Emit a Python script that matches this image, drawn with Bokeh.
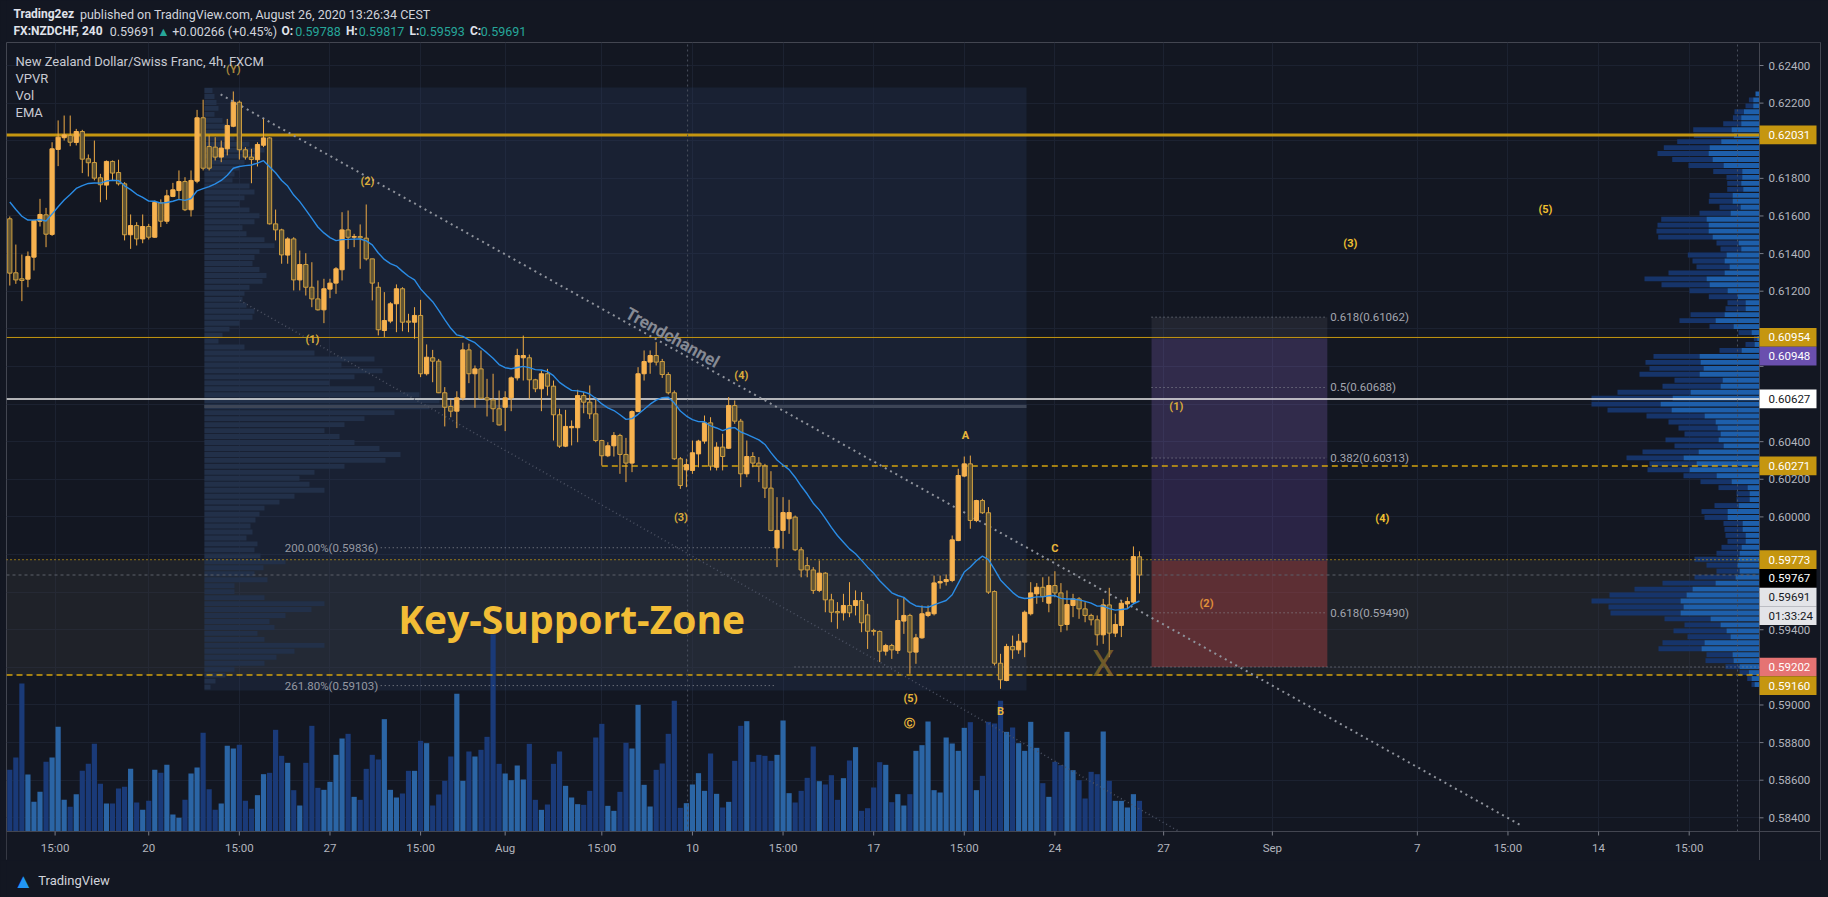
from bokeh.plotting import figure
from bokeh.layouts import column
from bokeh.models import Range1d, FixedTicker, NumeralTickFormatter, Label
from bokeh.embed import file_html
from bokeh.resources import INLINE
from bokeh.core.properties import value

# ---------------- candle data : FX:NZDCHF 4h ----------------
open_ = [
 0.61585, 0.61298, 0.61266, 0.61264, 0.61381, 0.61572, 0.61606, 0.61502, 0.61954, 0.62016,
 0.62028, 0.61991, 0.62049, 0.61904, 0.61884, 0.61803, 0.61764, 0.61890, 0.61831, 0.61771,
 0.61500, 0.61549, 0.61478, 0.61544, 0.61487, 0.61670, 0.61572, 0.61704, 0.61735, 0.61783,
 0.61633, 0.61785, 0.62122, 0.61969, 0.61966, 0.61913, 0.61957, 0.62077, 0.62205, 0.61952,
 0.61913, 0.61899, 0.61976, 0.62015, 0.61558, 0.61526, 0.61392, 0.61478, 0.61260, 0.61342,
 0.61221, 0.61159, 0.61101, 0.61211, 0.61243, 0.61314, 0.61526, 0.61487, 0.61491, 0.61482,
 0.61372, 0.61221, 0.60991, 0.61041, 0.61133, 0.61213, 0.61041, 0.61035, 0.61071, 0.60761,
 0.60846, 0.60828, 0.60660, 0.60587, 0.60562, 0.60633, 0.60888, 0.60761, 0.60787, 0.60633,
 0.60622, 0.60575, 0.60583, 0.60633, 0.60739, 0.60846, 0.60846, 0.60729, 0.60681, 0.60761,
 0.60695, 0.60543, 0.60376, 0.60474, 0.60474, 0.60645, 0.60610, 0.60548, 0.60406, 0.60325,
 0.60378, 0.60433, 0.60332, 0.60286, 0.60560, 0.60761, 0.60823, 0.60858, 0.60826, 0.60757,
 0.60660, 0.60309, 0.60250, 0.60247, 0.60335, 0.60403, 0.60500, 0.60264, 0.60371, 0.60365,
 0.60592, 0.60509, 0.60229, 0.60321, 0.60286, 0.60270, 0.60153, 0.59835, 0.59928, 0.59990,
 0.59999, 0.59825, 0.59741, 0.59718, 0.59609, 0.59701, 0.59559, 0.59497, 0.59490, 0.59529,
 0.59529, 0.59555, 0.59479, 0.59396, 0.59391, 0.59286, 0.59316, 0.59290, 0.59446, 0.59476,
 0.59281, 0.59357, 0.59476, 0.59485, 0.59649, 0.59656, 0.59662, 0.59874, 0.60217, 0.60282,
 0.59981, 0.60087, 0.60022, 0.59603, 0.59222, 0.59130, 0.59311, 0.59293, 0.59334, 0.59485,
 0.59591, 0.59626, 0.59541, 0.59635, 0.59596, 0.59428, 0.59529, 0.59564, 0.59511, 0.59476,
 0.59453, 0.59373, 0.59532, 0.59382, 0.59423, 0.59538, 0.59547, 0.59788]
high_ = [
 0.61597, 0.61448, 0.61395, 0.61411, 0.61580, 0.61691, 0.61643, 0.61992, 0.62108, 0.62134,
 0.62134, 0.62063, 0.62058, 0.61927, 0.62001, 0.61824, 0.61895, 0.61895, 0.61899, 0.61780,
 0.61608, 0.61567, 0.61608, 0.61558, 0.61682, 0.61688, 0.61739, 0.61776, 0.61842, 0.61806,
 0.61842, 0.62164, 0.62218, 0.62028, 0.62019, 0.62001, 0.62116, 0.62262, 0.62214, 0.61966,
 0.61957, 0.61992, 0.62116, 0.62019, 0.61634, 0.61532, 0.61487, 0.61487, 0.61416, 0.61402,
 0.61354, 0.61257, 0.61266, 0.61266, 0.61328, 0.61620, 0.61629, 0.61505, 0.61555, 0.61661,
 0.61372, 0.61248, 0.61195, 0.61142, 0.61236, 0.61221, 0.61080, 0.61115, 0.61154, 0.60917,
 0.60888, 0.60840, 0.60690, 0.60622, 0.60668, 0.60926, 0.60921, 0.60805, 0.60885, 0.60734,
 0.60761, 0.60672, 0.60668, 0.60746, 0.60894, 0.60964, 0.60863, 0.60734, 0.60778, 0.60787,
 0.60725, 0.60575, 0.60569, 0.60513, 0.60676, 0.60663, 0.60699, 0.60637, 0.60410, 0.60397,
 0.60451, 0.60442, 0.60420, 0.60566, 0.60796, 0.60885, 0.60885, 0.60929, 0.60840, 0.60769,
 0.60672, 0.60318, 0.60309, 0.60406, 0.60410, 0.60539, 0.60530, 0.60397, 0.60442, 0.60637,
 0.60619, 0.60521, 0.60406, 0.60344, 0.60318, 0.60282, 0.60243, 0.60105, 0.60105, 0.60091,
 0.60007, 0.59839, 0.59786, 0.59733, 0.59768, 0.59706, 0.59591, 0.59547, 0.59591, 0.59653,
 0.59609, 0.59600, 0.59538, 0.59405, 0.59396, 0.59325, 0.59325, 0.59564, 0.59573, 0.59485,
 0.59378, 0.59529, 0.59529, 0.59688, 0.59688, 0.59694, 0.59901, 0.60256, 0.60321, 0.60326,
 0.60091, 0.60096, 0.60052, 0.59609, 0.59272, 0.59325, 0.59369, 0.59378, 0.59502, 0.59653,
 0.59648, 0.59679, 0.59683, 0.59711, 0.59648, 0.59609, 0.59591, 0.59573, 0.59547, 0.59485,
 0.59476, 0.59564, 0.59623, 0.59485, 0.59555, 0.59573, 0.59843, 0.59817]
low_ = [
 0.61230, 0.61239, 0.61147, 0.61221, 0.61310, 0.61544, 0.61434, 0.61494, 0.61865, 0.62001,
 0.61971, 0.61975, 0.61828, 0.61810, 0.61789, 0.61673, 0.61686, 0.61789, 0.61762, 0.61470,
 0.61425, 0.61443, 0.61455, 0.61475, 0.61484, 0.61541, 0.61558, 0.61700, 0.61691, 0.61626,
 0.61597, 0.61774, 0.61842, 0.61842, 0.61895, 0.61886, 0.61922, 0.62072, 0.61900, 0.61900,
 0.61774, 0.61863, 0.61966, 0.61555, 0.61470, 0.61346, 0.61346, 0.61204, 0.61204, 0.61177,
 0.61115, 0.61097, 0.61030, 0.61163, 0.61186, 0.61257, 0.61425, 0.61434, 0.61319, 0.61363,
 0.61151, 0.60965, 0.60956, 0.61030, 0.60982, 0.60987, 0.60982, 0.60947, 0.60743, 0.60752,
 0.60716, 0.60658, 0.60481, 0.60530, 0.60472, 0.60619, 0.60711, 0.60580, 0.60628, 0.60534,
 0.60504, 0.60486, 0.60456, 0.60562, 0.60725, 0.60725, 0.60628, 0.60663, 0.60562, 0.60645,
 0.60406, 0.60367, 0.60371, 0.60380, 0.60397, 0.60551, 0.60521, 0.60397, 0.60273, 0.60318,
 0.60321, 0.60229, 0.60185, 0.60238, 0.60557, 0.60725, 0.60761, 0.60805, 0.60739, 0.60651,
 0.60303, 0.60149, 0.60158, 0.60229, 0.60264, 0.60389, 0.60247, 0.60247, 0.60247, 0.60362,
 0.60495, 0.60158, 0.60211, 0.60264, 0.60185, 0.60100, 0.59924, 0.59733, 0.59830, 0.59910,
 0.59818, 0.59679, 0.59679, 0.59591, 0.59600, 0.59493, 0.59440, 0.59405, 0.59449, 0.59467,
 0.59476, 0.59387, 0.59298, 0.59369, 0.59228, 0.59263, 0.59245, 0.59272, 0.59378, 0.59166,
 0.59219, 0.59352, 0.59467, 0.59476, 0.59618, 0.59635, 0.59653, 0.59871, 0.60211, 0.59937,
 0.59972, 0.60016, 0.59591, 0.59210, 0.59086, 0.59126, 0.59245, 0.59272, 0.59254, 0.59476,
 0.59538, 0.59547, 0.59493, 0.59573, 0.59387, 0.59396, 0.59467, 0.59458, 0.59440, 0.59423,
 0.59316, 0.59325, 0.59254, 0.59361, 0.59361, 0.59511, 0.59541, 0.59593]
close_ = [
 0.61296, 0.61260, 0.61257, 0.61385, 0.61576, 0.61608, 0.61503, 0.61957, 0.62019, 0.62031,
 0.61992, 0.62049, 0.61902, 0.61883, 0.61801, 0.61766, 0.61890, 0.61828, 0.61771, 0.61500,
 0.61549, 0.61478, 0.61544, 0.61487, 0.61672, 0.61572, 0.61707, 0.61739, 0.61783, 0.61633,
 0.61789, 0.62122, 0.61854, 0.61854, 0.61913, 0.61961, 0.62081, 0.62205, 0.61952, 0.61913,
 0.61900, 0.61980, 0.62015, 0.61558, 0.61526, 0.61393, 0.61478, 0.61260, 0.61342, 0.61221,
 0.61159, 0.61101, 0.61213, 0.61243, 0.61319, 0.61526, 0.61487, 0.61491, 0.61484, 0.61372,
 0.61243, 0.60995, 0.61044, 0.61133, 0.61213, 0.61035, 0.61035, 0.61071, 0.60761, 0.60849,
 0.60828, 0.60660, 0.60583, 0.60562, 0.60633, 0.60888, 0.60761, 0.60787, 0.60631, 0.60622,
 0.60575, 0.60489, 0.60633, 0.60739, 0.60858, 0.60858, 0.60729, 0.60681, 0.60761, 0.60695,
 0.60543, 0.60376, 0.60481, 0.60481, 0.60645, 0.60610, 0.60548, 0.60406, 0.60325, 0.60378,
 0.60433, 0.60332, 0.60286, 0.60560, 0.60761, 0.60826, 0.60858, 0.60823, 0.60757, 0.60660,
 0.60309, 0.60167, 0.60278, 0.60341, 0.60403, 0.60500, 0.60270, 0.60371, 0.60321, 0.60592,
 0.60509, 0.60229, 0.60321, 0.60286, 0.60270, 0.60153, 0.59928, 0.59928, 0.60023, 0.60023,
 0.59825, 0.59718, 0.59718, 0.59609, 0.59701, 0.59559, 0.59493, 0.59490, 0.59529, 0.59490,
 0.59555, 0.59437, 0.59392, 0.59391, 0.59286, 0.59316, 0.59293, 0.59449, 0.59476, 0.59281,
 0.59357, 0.59485, 0.59493, 0.59649, 0.59656, 0.59667, 0.59878, 0.60220, 0.60282, 0.59981,
 0.60087, 0.60022, 0.59600, 0.59222, 0.59134, 0.59311, 0.59293, 0.59339, 0.59493, 0.59596,
 0.59626, 0.59577, 0.59635, 0.59596, 0.59423, 0.59534, 0.59564, 0.59511, 0.59476, 0.59453,
 0.59373, 0.59532, 0.59382, 0.59428, 0.59541, 0.59550, 0.59789, 0.59691]
volume = [
 1850, 2220, 4440, 1710, 890, 1190, 2090, 2220, 3140, 950,
 740, 1120, 1820, 2030, 2630, 1430, 840, 840, 1290, 1340,
 1880, 870, 650, 920, 1850, 1760, 2000, 510, 410, 950,
 1740, 1920, 2960, 1270, 650, 840, 2570, 2490, 2600, 920,
 680, 1090, 1720, 1760, 3050, 2270, 2060, 1240, 780, 2060,
 3170, 1310, 1250, 1490, 2300, 2790, 2930, 1040, 950, 1880,
 2300, 2160, 3370, 1250, 1020, 1140, 1820, 1820, 2720, 2650,
 780, 1110, 1520, 2250, 4130, 1520, 2400, 2250, 2450, 2840,
 5920, 2030, 1740, 1540, 1980, 1560, 2630, 950, 650, 810,
 2030, 2400, 1370, 1020, 820, 800, 1220, 2820, 3230, 770,
 620, 1190, 2660, 2490, 3800, 1400, 750, 1850, 2040, 2930,
 3920, 710, 850, 1410, 1750, 1220, 2340, 1130, 720, 890,
 2120, 3170, 3310, 2090, 2300, 2270, 2120, 2300, 3330, 1150,
 870, 1220, 1610, 2550, 1510, 1410, 1690, 950, 1600, 2130,
 2530, 620, 700, 1320, 2080, 2000, 880, 1120, 780, 1120,
 2420, 2590, 3300, 1240, 1170, 2820, 2640, 2420, 3110, 3280,
 1240, 1670, 3290, 3240, 3920, 2990, 3120, 2650, 2420, 3290,
 2510, 1450, 1040, 2090, 1990, 2990, 1840, 1540, 990, 1790,
 1720, 3000, 1520, 920, 920, 720, 1120, 920]
EMA_SEED = 0.61674
EMA_LEN = 20

# ---------------- axes ----------------
price_ticks = [0.584, 0.586, 0.588, 0.590, 0.592, 0.594, 0.596, 0.598, 0.600, 0.602, 0.604,
               0.606, 0.608, 0.610, 0.612, 0.614, 0.616, 0.618, 0.620, 0.622, 0.624]
price_hidden = [0.620, 0.610, 0.608, 0.606, 0.598, 0.596, 0.592]   # covered by price tags
time_ticks = [7.5, 23.0, 38.0, 53.0, 68.0, 82.0, 98.0, 113.0, 128.0, 143.0, 158.0, 173.0,
              191.0, 209.0, 233.0, 248.0, 263.0, 278.0]
time_labels = ["15:00", "20", "15:00", "27", "15:00", "Aug", "15:00", "10", "15:00", "17",
               "15:00", "24", "27", "Sep", "7", "15:00", "14", "15:00"]

# ---------------- volume profiles ----------------
VP_TOP, VP_ROW = 0.62249, 0.0003172
vpvr_up = [4, 6.3, 6.3, 15.7, 18.3, 18.3, 28, 25.7, 38.3, 50, 51, 47, 36, 17.3, 17.3, 18.3, 16.3, 27, 27, 19,
           29, 53, 51, 51, 47, 21, 18.3, 33, 35, 30, 35, 53, 50, 32, 21.7, 14, 14, 35, 44, 26,
           8, 2.3, 5, 18, 60, 59, 56, 60, 37, 39, 69, 87, 99, 88, 55, 44, 42, 39, 41, 36,
           61, 76, 63, 70, 43, 28, 12, 10, 10, 21, 32, 32, 17, 17, 14, 14, 18, 20, 21, 22,
           20, 24, 44, 67, 73, 79, 76, 79, 49, 39, 33, 29, 55, 58, 27, 26, 20, 10.7, 8, 5]
vpvr_down = [0, 4.3, 7.7, 9.3, 8.3, 18, 38.3, 40, 44, 45.7, 51, 40.3, 35, 29, 15.7, 14, 16, 23, 23.7, 21,
             31, 45.3, 51, 52, 54.3, 22, 20.7, 38.7, 32, 33, 56, 62, 48, 38, 29, 18, 20, 34, 36, 24,
             13, 3.3, 9, 22, 46, 55, 54, 60, 48, 58, 73, 81, 69, 64, 58, 47, 39, 36, 53, 49,
             56, 57, 47, 42, 33, 31, 29, 13, 13, 24, 26, 23, 19, 18, 20, 18, 20, 23, 44, 31,
             23, 41, 53, 58, 77, 89, 75, 70, 46, 36, 53, 43, 42, 43, 26, 28, 14, 9.3, 4.3, 3]
LVP_TOP = 0.62267
fixed_vp = [8, 10, 12, 14, 10, 18, 22, 20, 30, 45, 60, 55, 40, 35, 30, 28, 45, 50, 40, 35,
            45, 55, 50, 38, 42, 60, 70, 55, 50, 48, 55, 62, 58, 45, 40, 38, 42, 50, 48, 35,
            25, 18, 14, 40, 110, 170, 137, 178, 150, 125, 170, 215, 235, 225, 190, 160, 140, 120, 135, 150,
            175, 196, 181, 140, 110, 95, 105, 120, 90, 75, 60, 55, 51, 46, 48, 42, 53, 50, 56, 81,
            59, 50, 63, 30, 30, 60, 120, 107, 81, 65, 70, 53, 60, 120, 90, 72, 60, 30, 21, 11, 6]

# ---------------- drawings (bar index / price) ----------------
lvl_res_major = 0.62031
lvl_gold = 0.60954
lvl_white = 0.60627
lvl_dash = 0.60271
lvl_entry = 0.59773
lvl_support = 0.59160
lvl_stop = 0.59202
lvl_target = 0.60948
lvl_pos_entry = 0.59767
lvl_poc = 0.60587
fib_pos = [("0.618(0.61062)", 0.61062), ("0.5(0.60688)", 0.60688),
           ("0.382(0.60313)", 0.60313), ("0.618(0.59490)", 0.59490)]
fib_ext = [("200.00%(0.59836)", 0.59836, 127.6), ("261.80%(0.59103)", 0.59103, 126.6)]
trend_upper = ([34.9, 250.2], [0.62246, 0.58359])
trend_lower = ([38.1, 193.6], [0.61151, 0.58327])
box_fixed = (32.2, 168.3, 0.62283, 0.59077)
pos_x = (189.0, 218.1)
vlines = [112.2, 286.0]
waves = [("(Y)", 37.0, 0.62379, "#a8873a"), ("(2)", 59.2, 0.61785, "#d9ab3a"),
         ("(1)", 50.1, 0.60945, "#d9ab3a"), ("(4)", 121.1, 0.60753, "#d9ab3a"),
         ("(3)", 111.1, 0.59998, "#d9ab3a"), ("A", 158.2, 0.60433, "#e8b53a"),
         ("C", 173.0, 0.59830, "#e8b53a"), ("(5)", 149.1, 0.59033, "#e8b53a"),
         ("B", 164.0, 0.58965, "#e8b53a"), ("\u24b8", 148.9, 0.58903, "#e8b53a"),
         ("(1)", 193.1, 0.60589, "#d9ab3a"), ("(2)", 198.1, 0.59538, "#e0903a"),
         ("(4)", 227.2, 0.59993, "#f0c030"), ("(3)", 221.9, 0.61456, "#f0c030"),
         ("(5)", 254.2, 0.61636, "#f0c030")]

# ---------------- layout constants ----------------
W = 1828
HEAD_H, MAIN_H, FOOT_H = 42, 818, 37
FW = 1814                    # frame: x 6..1820 (price column included)
PX = 6.041                   # px per 4h bar
xs = -3.3 / PX
xe = xs + FW / PX
XP_R = xs + 1753 / PX        # right edge of price area (x = 1759)
yt = 0.625223
PPX = 1.0 / 18808            # price per pixel
yb = yt - MAIN_H * PPX
YP_B = yt - 789 * PPX        # bottom of price area (y = 831)
FONT = "Roboto"
BG = "#131722"
GOLD = "#c59610"
LINE = "#434651"

p = figure(width=W, height=MAIN_H, x_range=Range1d(xs, xe), y_range=Range1d(yb, yt),
           output_backend="svg", toolbar_location=None, y_axis_location="right", title=None,
           min_border_left=6, min_border_right=8, min_border_top=0, min_border_bottom=0,
           background_fill_color=BG, border_fill_color=BG, outline_line_color=LINE)
p.extra_y_ranges = {"vol": Range1d(-29 * 30, (MAIN_H - 29) * 30)}
p.extra_x_ranges = {"vp": Range1d(1753, -61), "lvp": Range1d(-198, 1616)}

ya = p.yaxis[0]
ya.ticker = FixedTicker(ticks=price_ticks)
ya.formatter = NumeralTickFormatter(format="0.00000")
ya.major_label_overrides = {t: "" for t in price_hidden}
ya.major_label_standoff = -52
xa = p.xaxis[0]
xa.ticker = FixedTicker(ticks=time_ticks)
xa.major_label_overrides = {float(t): l for t, l in zip(time_ticks, time_labels)}
xa.major_label_standoff = -20
for ax in (xa, ya):
    ax.axis_line_color = LINE
    ax.major_tick_line_color = None
    ax.major_tick_in = 0
    ax.major_tick_out = 0
    ax.minor_tick_line_color = None
    ax.major_label_text_color = "#b2b5be"
    ax.major_label_text_font = FONT
    ax.major_label_text_font_size = "11.5px"
p.xgrid.grid_line_color = "#1c2231"
p.ygrid.grid_line_color = "#1c2231"

n = len(close_)
idx = list(range(n))
bull = [c >= o for o, c in zip(open_, close_)]

# axis column / row backgrounds (hide grid there)
p.quad(left=[XP_R], right=[xe], top=[yt], bottom=[yb], fill_color=BG, line_color=None)
p.quad(left=[xs], right=[xe], top=[YP_B], bottom=[yb], fill_color=BG, line_color=None)

# background zones
p.quad(left=[box_fixed[0]], right=[box_fixed[1]], top=[box_fixed[2]], bottom=[box_fixed[3]],
       fill_color="#2a3f66", fill_alpha=0.25, line_color=None)
p.quad(left=[xs], right=[XP_R], top=[lvl_entry], bottom=[lvl_support],
       fill_color="#3a3a3a", fill_alpha=0.3, line_color=None)

# fixed range volume profile
lvp_y = [LVP_TOP - k * VP_ROW for k in range(len(fixed_vp))]
p.hbar(y=lvp_y, left=0, right=fixed_vp, height=VP_ROW * 0.82, x_range_name="lvp",
       fill_color="#223049", line_color=None)
p.segment(x0=[box_fixed[0]], y0=[lvl_poc], x1=[box_fixed[1]], y1=[lvl_poc],
          line_color="#3d4556", line_width=3)

# volume
vcol = ["#2b65a5" if b else "#1a3a78" for b in bull]
p.vbar(x=idx, width=0.86, top=volume, bottom=0, y_range_name="vol",
       fill_color=vcol, line_color=None)

# visible range volume profile
vp_y = [VP_TOP - k * VP_ROW for k in range(len(vpvr_up))]
vp_tot = [u + d for u, d in zip(vpvr_up, vpvr_down)]
p.hbar(y=vp_y, left=vpvr_up, right=vp_tot, height=VP_ROW * 0.82, x_range_name="vp",
       fill_color="#16346a", line_color=None)
p.hbar(y=vp_y, left=0, right=vpvr_up, height=VP_ROW * 0.82, x_range_name="vp",
       fill_color="#1e5fab", line_color=None)

# position tool + fib
p.quad(left=[pos_x[0]], right=[pos_x[1]], top=[fib_pos[0][1]], bottom=[lvl_target],
       fill_color="#787b86", fill_alpha=0.15, line_color=None)
p.quad(left=[pos_x[0]], right=[pos_x[1]], top=[lvl_target], bottom=[lvl_pos_entry],
       fill_color="#7e57c2", fill_alpha=0.22, line_color=None)
p.quad(left=[pos_x[0]], right=[pos_x[1]], top=[lvl_target], bottom=[fib_pos[2][1]],
       fill_color="#ffffff", fill_alpha=0.035, line_color=None)
p.quad(left=[pos_x[0]], right=[pos_x[1]], top=[lvl_pos_entry], bottom=[lvl_stop],
       fill_color="#f05050", fill_alpha=0.3, line_color=None)
for txt, lv in fib_pos:
    p.segment(x0=[pos_x[0]], y0=[lv], x1=[pos_x[1]], y1=[lv], line_color="#8a8d96",
              line_dash="1 3", line_width=1)
p.text(x=[pos_x[1] + 0.5] * len(fib_pos), y=[f[1] for f in fib_pos], text=[f[0] for f in fib_pos],
       text_font=value(FONT), text_font_size="11.5px", text_color="#a3a6af",
       text_align="left", text_baseline="middle")
for txt, lv, xend in fib_ext:
    p.segment(x0=[61.4], y0=[lv], x1=[xend], y1=[lv], line_color="#8a8d96",
              line_dash="1 3", line_width=1)
p.text(x=[61.0, 61.0], y=[f[1] for f in fib_ext], text=[f[0] for f in fib_ext],
       text_font=value(FONT), text_font_size="11.5px", text_color="#9598a1",
       text_align="right", text_baseline="middle")

# horizontal levels
p.segment(x0=[xs], y0=[lvl_res_major], x1=[XP_R], y1=[lvl_res_major], line_color=GOLD, line_width=3)
p.segment(x0=[xs], y0=[lvl_gold], x1=[XP_R], y1=[lvl_gold], line_color=GOLD, line_width=1)
p.segment(x0=[xs], y0=[lvl_white], x1=[XP_R], y1=[lvl_white], line_color="#e8e8e8", line_width=1.5)
p.segment(x0=[98.0], y0=[lvl_dash], x1=[XP_R], y1=[lvl_dash], line_color="#d4a30e",
          line_width=1.5, line_dash="6 4")
p.segment(x0=[xs], y0=[lvl_entry], x1=[XP_R], y1=[lvl_entry], line_color="#d4a30e",
          line_width=1.2, line_dash="1 3")
p.segment(x0=[xs], y0=[lvl_support], x1=[XP_R], y1=[lvl_support], line_color="#d4a30e",
          line_width=1.5, line_dash="6 4")
p.segment(x0=[xs], y0=[close_[-1]], x1=[XP_R], y1=[close_[-1]], line_color="#5d606b",
          line_width=1, line_dash="3 3")
p.segment(x0=[129.9], y0=[lvl_stop], x1=[XP_R], y1=[lvl_stop], line_color="#8a8d96",
          line_width=1, line_dash="1 3")
p.segment(x0=vlines, y0=[YP_B] * len(vlines), x1=vlines, y1=[yt] * len(vlines),
          line_color="#4a505d", line_dash="2 3", line_width=1)

# trend channel
p.line(x=trend_upper[0], y=trend_upper[1], line_color="#8f939c", line_width=2, line_dash="2 4")
p.line(x=trend_lower[0], y=trend_lower[1], line_color="#4c5263", line_width=1.5, line_dash="1 3")

# candles
wick_top = [max(h, o, c) for h, o, c in zip(high_, open_, close_)]
wick_bot = [min(l, o, c) for l, o, c in zip(low_, open_, close_)]
p.segment(x0=idx, y0=wick_bot, x1=idx, y1=wick_top, line_color="#eeaa45", line_width=1)
body_top = [max(o, c) for o, c in zip(open_, close_)]
body_bot = [min(o, c) for o, c in zip(open_, close_)]
p.vbar(x=idx, width=0.7, top=body_top, bottom=body_bot,
       fill_color=["#f7b24f" if b else "#5f5334" for b in bull],
       line_color=["#f7b24f" if b else "#cf9f3f" for b in bull], line_width=1)

# EMA
k_ema = 2.0 / (EMA_LEN + 1)
ema = [EMA_SEED]
for c in close_[1:]:
    ema.append(ema[-1] + k_ema * (c - ema[-1]))
p.line(x=idx, y=ema, line_color="#2a8ce6", line_width=1.4)

# texts on chart
p.text(x=[w[1] for w in waves], y=[w[2] for w in waves], text=[w[0] for w in waves],
       text_font=value(FONT), text_font_size="11px", text_font_style="bold",
       text_color=[w[3] for w in waves], text_align="center", text_baseline="middle")
p.text(x=[181.0], y=[0.59220], text=["X"], text_font=value(FONT), text_font_size="36px",
       text_color="#8a6d2a", text_alpha=0.75, text_align="center", text_baseline="middle")
p.text(x=[93.0], y=[0.59460], text=["Key-Support-Zone"], text_font=value("Open Sans"),
       text_font_size="39px", text_font_style="bold", text_color="#f2bd36",
       text_align="center", text_baseline="middle")
p.text(x=[109.7], y=[0.60955], text=["Trendchannel"], text_font=value(FONT),
       text_font_size="17px", text_font_style="bold", text_color="#868a94",
       angle=-0.512, text_align="center", text_baseline="middle")

# separators and axis tick marks
p.segment(x0=[XP_R], y0=[yb], x1=[XP_R], y1=[yt], line_color=LINE, line_width=1)
p.segment(x0=[xs], y0=[YP_B], x1=[xe], y1=[YP_B], line_color=LINE, line_width=1)
p.segment(x0=[XP_R] * len(price_ticks), y0=price_ticks, x1=[XP_R + 4 / PX] * len(price_ticks),
          y1=price_ticks, line_color="#787b86", line_width=1)
p.segment(x0=time_ticks, y0=[YP_B] * len(time_ticks), x1=time_ticks,
          y1=[YP_B - 4 * PPX] * len(time_ticks), line_color="#787b86", line_width=1)

# price tags on the axis (stacked to avoid overlap)
tags = [(lvl_res_major, "%.5f" % lvl_res_major, GOLD, "#ffffff"),
        (lvl_gold, "%.5f" % lvl_gold, GOLD, "#ffffff"),
        (lvl_target, "%.5f" % lvl_target, "#6a4fae", "#ffffff"),
        (lvl_white, "%.5f" % lvl_white, "#ffffff", "#131722"),
        (lvl_dash, "%.5f" % lvl_dash, GOLD, "#ffffff"),
        (lvl_entry, "%.5f" % lvl_entry, GOLD, "#ffffff"),
        (lvl_pos_entry, "%.5f" % lvl_pos_entry, "#000000", "#ffffff"),
        (close_[-1], "%.5f" % close_[-1], "#e3e4e8", "#131722"),
        (close_[-1] - 1e-9, "01:33:24", "#e3e4e8", "#131722"),
        (lvl_stop, "%.5f" % lvl_stop, "#e57373", "#ffffff"),
        (lvl_support, "%.5f" % lvl_support, GOLD, "#ffffff")]
TAG_H = 18.7 * PPX
ty, prev = [], None
for v, t, bg, fg in sorted(tags, key=lambda r: -r[0]):
    y = v if prev is None else min(v, prev - TAG_H)
    prev = y
    ty.append((y, t, bg, fg))
p.quad(left=[XP_R] * len(ty), right=[XP_R + 57 / PX] * len(ty),
       top=[r[0] + TAG_H / 2 for r in ty], bottom=[r[0] - TAG_H / 2 for r in ty],
       fill_color=[r[2] for r in ty], line_color=None)
p.text(x=[XP_R + 9 / PX] * len(ty), y=[r[0] for r in ty], text=[r[1] for r in ty],
       text_color=[r[3] for r in ty], text_font=value(FONT), text_font_size="11.5px",
       text_align="left", text_baseline="middle")

# legend inside chart
for i, t in enumerate(["New Zealand Dollar/Swiss Franc, 4h, FXCM", "VPVR", "Vol", "EMA"]):
    p.add_layout(Label(x=9, y=[799, 782, 765, 748][i], x_units="screen", y_units="screen",
                       text=t, text_color="#c8cad2", text_font=FONT, text_font_size="13px",
                       text_baseline="middle", text_align="left"))

# ---------------- header ----------------
TEAL = "#26a69a"
h = figure(width=W, height=HEAD_H, x_range=Range1d(0, W), y_range=Range1d(HEAD_H, 0),
           output_backend="svg", toolbar_location=None, title=None,
           x_axis_location=None, y_axis_location=None, min_border=0,
           background_fill_color=BG, border_fill_color=BG, outline_line_color=None)
h.xgrid.visible = False
h.ygrid.visible = False
hdr = [(7, 13.5, "Trading2ez", "#e0e3eb", "bold"),
       (74, 13.5, "published on TradingView.com, August 26, 2020 13:26:34 CEST", "#d1d4dc", "normal"),
       (7, 30.5, "FX:NZDCHF, 240", "#e0e3eb", "bold"),
       (104, 30.5, "%.5f" % close_[-1], "#d1d4dc", "normal"),
       (152, 30.5, "\u25b2", TEAL, "normal"),
       (167, 30.5, "+0.00266 (+0.45%)", "#d1d4dc", "normal"),
       (277, 30.5, "O:", "#e0e3eb", "bold"), (291, 30.5, "%.5f" % open_[-1], TEAL, "normal"),
       (342, 30.5, "H:", "#e0e3eb", "bold"), (355, 30.5, "%.5f" % high_[-1], TEAL, "normal"),
       (406, 30.5, "L:", "#e0e3eb", "bold"), (416, 30.5, "%.5f" % low_[-1], TEAL, "normal"),
       (467, 30.5, "C:", "#e0e3eb", "bold"), (478, 30.5, "%.5f" % close_[-1], TEAL, "normal")]
h.text(x=[r[0] for r in hdr], y=[r[1] for r in hdr], text=[r[2] for r in hdr],
       text_color=[r[3] for r in hdr], text_font_style=[r[4] for r in hdr],
       text_font_size=["12px" if r[4] == "bold" else "12.5px" for r in hdr],
       text_font=value(FONT), text_align="left", text_baseline="middle")

# ---------------- footer ----------------
f = figure(width=W, height=FOOT_H, x_range=Range1d(0, W), y_range=Range1d(FOOT_H, 0),
           output_backend="svg", toolbar_location=None, title=None,
           x_axis_location=None, y_axis_location=None, min_border=0,
           background_fill_color=BG, border_fill_color=BG, outline_line_color=None)
f.xgrid.visible = False
f.ygrid.visible = False
f.text(x=[7], y=[20], text=["\u25b2"], text_color="#2196f3", text_font=value(FONT),
       text_font_size="20px", text_align="left", text_baseline="middle")
f.text(x=[32], y=[20], text=["TradingView"], text_color="#d1d4dc", text_font=value(FONT),
       text_font_size="13px", text_align="left", text_baseline="middle")

layout = column(h, p, f, spacing=0)
html = file_html(layout, INLINE, title="NZDCHF")
html = html.replace("<head>", "<head><style>html,body{background:#131722;}</style>", 1)
open("out.html", "w").write(html)
